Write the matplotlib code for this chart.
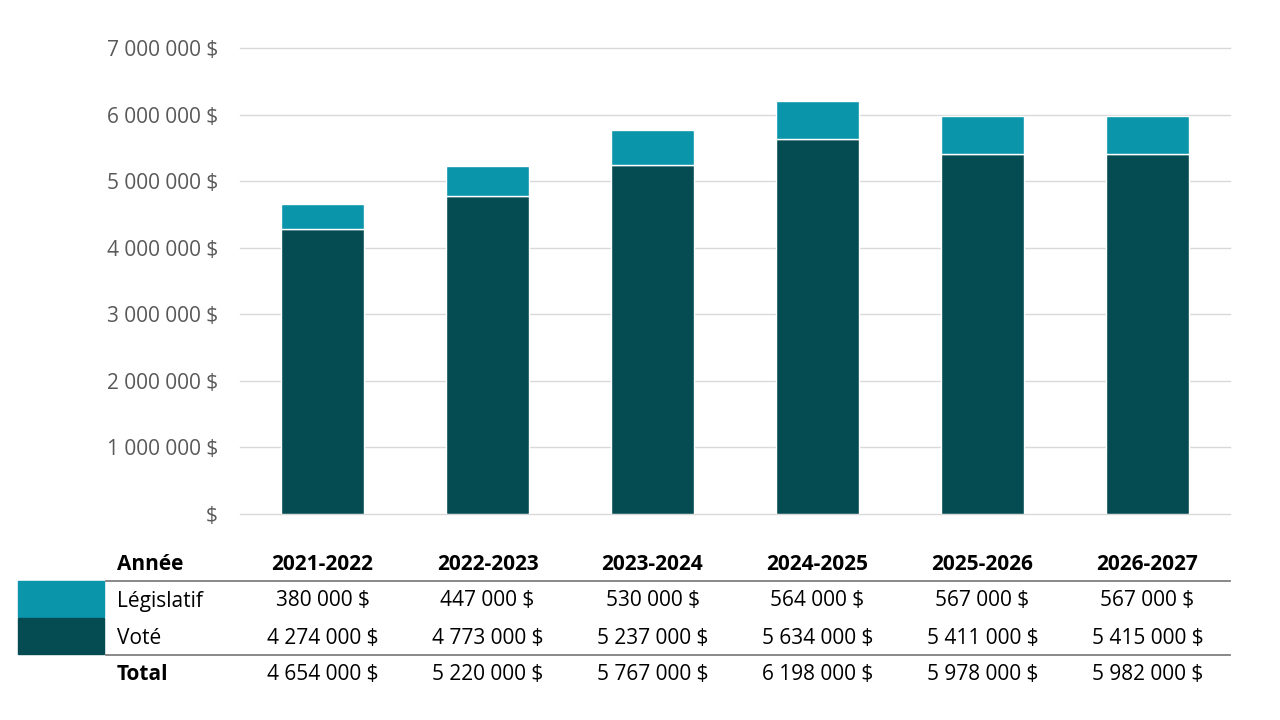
import matplotlib
matplotlib.use('Agg')
import matplotlib.pyplot as plt
from matplotlib.lines import Line2D
from matplotlib.patches import Rectangle
import numpy as np

plt.rcParams['font.family'] = ['Open Sans', 'DejaVu Sans']

# Data
annees = ['2021-2022', '2022-2023', '2023-2024', '2024-2025', '2025-2026', '2026-2027']
legislatif = [380000, 447000, 530000, 564000, 567000, 567000]
vote = [4274000, 4773000, 5237000, 5634000, 5411000, 5415000]
total = [4654000, 5220000, 5767000, 6198000, 5978000, 5982000]
yticks = [0, 1000000, 2000000, 3000000, 4000000, 5000000, 6000000, 7000000]

color_leg = '#0A95AB'
color_vote = '#054B52'


def fmt(v):
    if v == 0:
        return '$'
    return f'{v:,}'.replace(',', ' ') + ' $'


fig = plt.figure(figsize=(12.8, 7.2), dpi=100)
ax = fig.add_axes([240 / 1280, 206 / 720, 990 / 1280, 466 / 720])

x = np.arange(len(annees))
ax.bar(x, vote, width=0.5, color=color_vote, edgecolor='white', linewidth=1, zorder=3)
ax.bar(x, legislatif, width=0.5, bottom=vote, color=color_leg, edgecolor='white', linewidth=1, zorder=3)

ax.set_xlim(-0.5, len(annees) - 0.5)
ax.set_ylim(0, 7000000)
ax.set_yticks(yticks)
ax.set_yticklabels([fmt(v) for v in yticks], fontsize=15, color='#595959')
ax.set_xticks([])
ax.yaxis.grid(True, color='#D9D9D9', linewidth=1)
for gl in ax.get_ygridlines():
    gl.set_clip_on(False)
ax.set_axisbelow(True)
ax.tick_params(axis='y', length=0, pad=16)
for s in ax.spines.values():
    s.set_visible(False)

# Table under the chart
def fx(px):
    return px / 1280


def fy(py):
    return 1 - py / 720


centers = [fx(240 + 165 * (i + 0.5)) for i in range(len(annees))]
fs = 15

fig.text(fx(117), fy(565), 'Année', fontsize=fs, fontweight='bold', va='center', ha='left')
fig.text(fx(117), fy(601), 'Législatif', fontsize=fs, va='center', ha='left')
fig.text(fx(117), fy(638), 'Voté', fontsize=fs, va='center', ha='left')
fig.text(fx(117), fy(675), 'Total', fontsize=fs, fontweight='bold', va='center', ha='left')

for i, c in enumerate(centers):
    fig.text(c, fy(565), annees[i], fontsize=fs, fontweight='bold', va='center', ha='center')
    fig.text(c, fy(601), fmt(legislatif[i]), fontsize=fs, va='center', ha='center')
    fig.text(c, fy(638), fmt(vote[i]), fontsize=fs, va='center', ha='center')
    fig.text(c, fy(675), fmt(total[i]), fontsize=fs, va='center', ha='center')

fig.add_artist(Line2D([fx(106), fx(1230)], [fy(581), fy(581)], color='#7F7F7F', linewidth=1.3))
fig.add_artist(Line2D([fx(106), fx(1230)], [fy(655), fy(655)], color='#7F7F7F', linewidth=1.3))

fig.add_artist(Rectangle((fx(18), fy(617)), fx(86), 36 / 720, color=color_leg))
fig.add_artist(Rectangle((fx(18), fy(654)), fx(86), 36 / 720, color=color_vote))

fig.savefig('out.png', dpi=100)
